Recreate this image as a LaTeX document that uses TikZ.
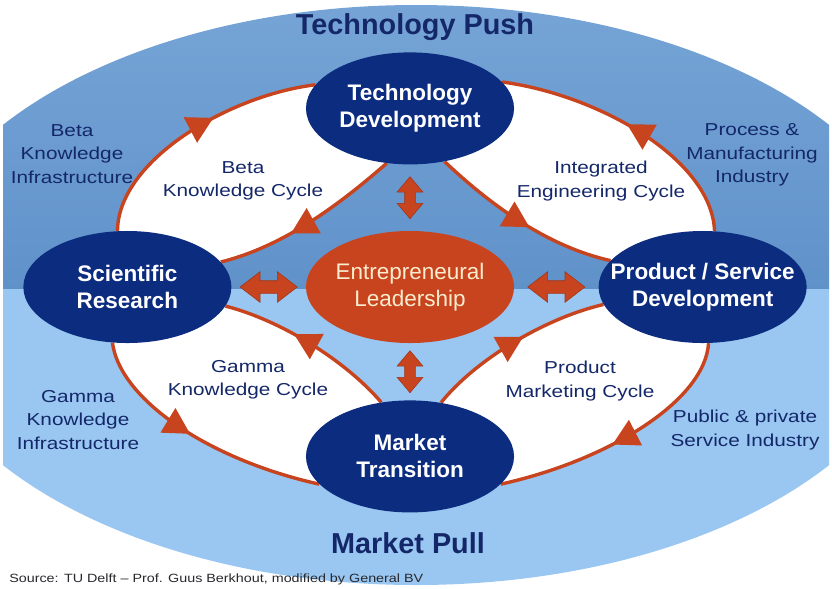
\documentclass[tikz,border=0pt]{standalone}
\usepackage{fontspec}
\setmainfont{Liberation Sans}
\newfontfamily\lblfont{Liberation Sans}[FakeStretch=1.2]
\usetikzlibrary{calc,positioning,decorations.markings,shapes.geometric,shapes.arrows,arrows.meta,backgrounds}

\begin{document}
\begin{tikzpicture}[
            x=0.025cm, y=-0.025cm,
            lbl/.style={text=nvt,align=center,font={\lblfont\fontsize{12.3}{16.7}\selectfont}},
            ttl/.style={text=nvt,font={\bfseries\fontsize{20.5}{24}\selectfont}},
            lensfill/.style={fill=white},
            cycflow/.style={color=orx,line width=0.85mm,
                postaction={decorate,decoration={markings,mark=at position #1 with {\arrow{Triangle[length=6.5mm,width=7mm]}}}}},
            hdarrow/.style={double arrow,fill=orx,draw=orx!80!black,line width=0.4pt,inner xsep=0pt,inner ysep=0.15cm,
                minimum height=1.43cm,double arrow head extend=0.225cm,double arrow tip angle=75},
            vdarrow/.style={hdarrow,rotate=90,inner ysep=0.125cm,minimum height=1.05cm,
                double arrow head extend=0.19cm,double arrow tip angle=80}
        ]
            \definecolor{nvx}{RGB}{12,44,128}
            \definecolor{nvt}{RGB}{20,40,105}
            \definecolor{orx}{RGB}{200,68,30}
            \definecolor{crx}{RGB}{250,236,206}
            \definecolor{srx}{RGB}{40,40,45}
            \definecolor{bgtop}{RGB}{118,164,214}
            \definecolor{bgmid}{RGB}{96,146,202}
            \definecolor{bglow}{RGB}{153,199,242}

            \useasboundingbox (0,0) rectangle (832,588);

            \begin{scope}[
                every node/.style={ellipse,fill=nvx,text=white,minimum width=5.2cm,minimum height=2.8cm,
                    inner xsep=-6mm,inner ysep=0pt,align=center,font={\bfseries\fontsize{16}{19.2}\selectfont}}
            ]
                \node (EL) [fill=orx,text=crx,font={\fontsize{16}{19.2}\selectfont}] at (410,287) {Entrepreneural\\Leadership};
                \node (TD) [above=1.65cm of EL] {Technology\\Development};
                \node (SR) [left=1.85cm of EL]  {Scientific\\Research};
                \node (PS) [right=2.1cm of EL]  {Product / Service\\Development};
                \node (MT) [below=1.42cm of EL] {Market\\Transition};
            \end{scope}

            \begin{scope}[on background layer]
                \begin{scope}
                    \clip (3,0) rectangle (829,588);
                    \clip (416,295) ellipse [x radius=510, y radius=290];
                    \shade[top color=bgtop,bottom color=bgmid] (0,0) rectangle (832,289);
                    \fill[bglow] (0,289) rectangle (832,588);
                \end{scope}

                \fill[lensfill] (SR.100) .. controls (118,160) and (230,95) .. (TD.166) -- (TD.247) .. controls (350,195) and (290,245) .. (SR.15) -- cycle;
                \fill[lensfill] (PS.78) .. controls (712,160) and (600,95) .. (TD.16) -- (TD.303) .. controls (480,195) and (540,245) .. (PS.164) -- cycle;
                \fill[lensfill] (SR.255) .. controls (120,400) and (210,460) .. (MT.197) -- (MT.118) .. controls (345,360) and (280,320) .. (SR.349) -- cycle;
                \fill[lensfill] (MT.60) .. controls (475,360) and (545,318) .. (PS.190) -- (PS.276) .. controls (705,400) and (610,460) .. (MT.343) -- cycle;

                \draw[cycflow=0.59] (SR.100) .. controls (118,160) and (230,95)  .. (TD.166);
                \draw[cycflow=0.61] (TD.247) .. controls (350,195) and (290,245) .. (SR.15);
                \draw[cycflow=0.52] (PS.78)  .. controls (712,160) and (600,95)  .. (TD.16);
                \draw[cycflow=0.55] (TD.303) .. controls (480,195) and (540,245) .. (PS.164);
                \draw[cycflow=0.47] (SR.255) .. controls (120,400) and (210,460) .. (MT.197);
                \draw[cycflow=0.60] (MT.118) .. controls (345,360) and (280,320) .. (SR.349);
                \draw[cycflow=0.55] (MT.60)  .. controls (475,360) and (545,318) .. (PS.190);
                \draw[cycflow=0.55] (PS.276) .. controls (705,400) and (610,460) .. (MT.343);
            \end{scope}

            \node (ha1) [hdarrow] at ($(SR.east)!0.5!(EL.west)$)   {};
            \node (ha2) [hdarrow] at ($(EL.east)!0.5!(PS.west)$)   {};
            \node (va1) [vdarrow] at ($(TD.south)!0.5!(EL.north)$) {};
            \node (va2) [vdarrow] at ($(EL.south)!0.5!(MT.north)$) {};

            \node (push) [ttl] at (415,27)  {Technology Push};
            \node (pull) [ttl] at (408,543) {Market Pull};

            \node (bki) [lbl] at (72,154)  {Beta\\Knowledge\\Infrastructure};
            \node (bkc) [lbl] at (243,181) {Beta\\Knowledge Cycle};
            \node (iec) [lbl] at (601,181) {Integrated\\Engineering Cycle};
            \node (pmi) [lbl] at (752,155) {Process \&\\Manufacturing\\Industry};
            \node (gki) [lbl] at (78,420)  {Gamma\\Knowledge\\Infrastructure};
            \node (gkc) [lbl] at (248,380) {Gamma\\Knowledge Cycle};
            \node (pmc) [lbl] at (580,381) {Product\\Marketing Cycle};
            \node (psi) [lbl] at (745,430) {Public \& private\\Service Industry};

            \node (src) [anchor=west,text=srx,inner sep=0pt,font={\lblfont\fontsize{8.5}{10}\selectfont}] at (9,579)
                {Source: TU Delft – Prof. Guus Berkhout, modified by General BV};
        \end{tikzpicture}
\end{document}
